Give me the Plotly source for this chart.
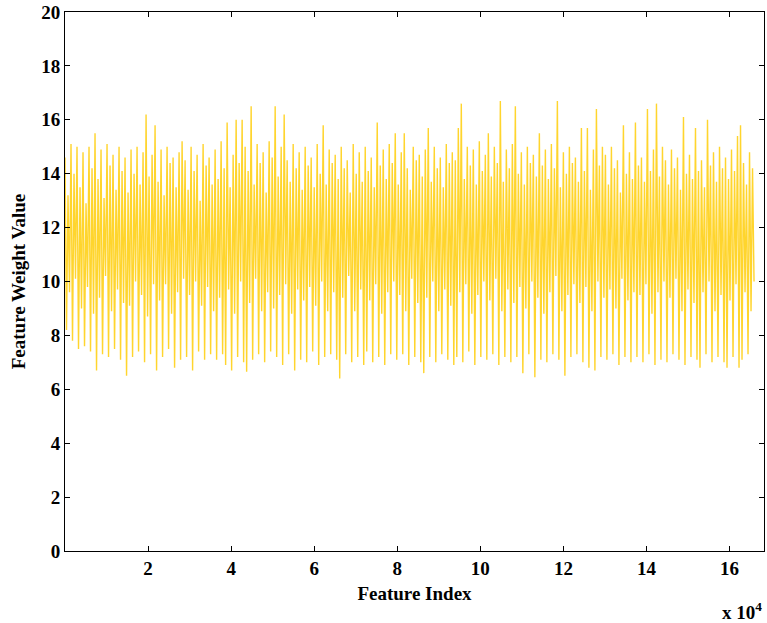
import numpy as np
import plotly.graph_objects as go

# Peak (upper) and trough (lower) values, in groups of ten
peaks = [
    14.6, 13.2, 15.1, 14.0, 15.0, 13.5, 14.8, 12.9, 15.0, 14.2,
    15.5, 13.8, 14.9, 13.1, 15.1, 14.3, 14.7, 13.4, 15.0, 14.1,
    14.6, 13.3, 14.9, 14.0, 15.0, 13.6, 14.8, 16.2, 13.9, 14.7,
    15.8, 13.7, 14.9, 13.2, 15.0, 14.4, 14.6, 13.5, 14.8, 15.2,
    14.5, 13.4, 15.0, 14.1, 14.7, 13.0, 15.1, 14.3, 14.6, 13.6,
    14.9, 13.8, 15.2, 14.2, 15.9, 13.5, 14.7, 16.0, 14.4, 16.0,
    15.0, 14.1, 16.5, 13.6, 15.1, 14.4, 14.8, 13.3, 15.2, 14.6,
    16.5, 13.9, 15.0, 16.2, 14.5, 13.7, 15.1, 14.2, 14.8, 13.4,
    15.0, 14.3, 14.6, 13.5, 15.1, 14.0, 15.8, 13.6, 14.9, 14.4,
    14.7, 13.8, 15.0, 14.2, 14.5, 13.3, 15.1, 14.0, 14.8, 13.7,
    15.0, 14.1, 14.6, 13.5, 15.9, 14.3, 14.9, 13.8, 15.1, 14.4,
    15.5, 13.6, 14.8, 15.5, 14.2, 13.4, 15.0, 14.5, 14.7, 13.9,
    14.9, 15.7, 13.7, 15.0, 14.2, 14.6, 13.5, 15.1, 14.4, 14.8,
    14.5, 15.7, 16.6, 13.8, 15.0, 14.3, 14.9, 13.6, 15.2, 14.1,
    14.7, 15.5, 13.9, 15.0, 14.4, 16.7, 13.7, 14.9, 14.2, 15.1,
    16.5, 14.0, 14.8, 13.6, 15.0, 14.4, 14.7, 13.9, 15.5, 14.3,
    14.9, 13.8, 15.1, 14.2, 16.7, 13.5, 14.8, 14.0, 15.0, 14.4,
    14.6, 13.7, 15.7, 14.1, 15.7, 13.4, 14.9, 16.4, 14.3, 15.0,
    14.7, 13.6, 15.0, 14.2, 14.5, 13.3, 15.8, 14.0, 14.8, 13.8,
    15.9, 14.3, 14.6, 13.7, 16.4, 14.1, 14.9, 16.6, 13.9, 15.0,
    14.5, 13.6, 14.9, 14.2, 14.6, 13.4, 16.1, 14.0, 14.7, 13.8,
    15.7, 14.1, 14.5, 13.5, 16.0, 14.3, 14.8, 13.7, 15.0, 14.2,
    14.6, 13.8, 14.9, 14.1, 15.4, 15.8, 14.4, 13.6, 14.8, 14.2,
]
troughs = [
    8.2, 9.6, 7.8, 10.1, 7.5, 9.0, 7.6, 9.8, 7.4, 8.8,
    6.7, 9.4, 7.3, 10.2, 7.2, 8.9, 7.5, 9.7, 7.1, 9.2,
    6.5, 9.1, 7.2, 10.0, 7.4, 9.5, 7.0, 8.7, 7.3, 9.9,
    6.7, 9.3, 7.2, 9.9, 7.5, 8.8, 6.8, 9.6, 7.1, 10.1,
    7.2, 9.5, 6.7, 10.0, 7.4, 9.1, 7.1, 9.8, 7.3, 8.9,
    7.1, 9.4, 7.3, 6.9, 9.7, 6.7, 8.8, 7.2, 10.0, 7.0,
    6.65, 9.2, 7.1, 10.1, 7.3, 8.9, 7.0, 9.6, 7.4, 9.0,
    7.2, 9.5, 6.9, 9.9, 7.3, 8.8, 6.7, 9.7, 7.1, 9.3,
    7.0, 9.8, 7.4, 9.1, 6.9, 10.0, 7.2, 8.9, 7.3, 9.6,
    7.1, 6.4, 9.4, 7.3, 10.2, 7.0, 8.9, 7.2, 9.7, 6.9,
    7.4, 9.3, 7.0, 9.9, 7.2, 8.8, 6.9, 9.6, 7.3, 10.0,
    7.1, 9.5, 7.3, 8.9, 6.9, 10.1, 7.2, 9.2, 7.0, 6.6,
    9.4, 7.2, 10.0, 7.0, 8.9, 7.3, 9.7, 7.1, 9.1, 6.9,
    7.2, 9.6, 7.0, 9.9, 7.4, 8.8, 6.9, 9.5, 7.2, 10.0,
    7.1, 9.3, 7.3, 10.1, 6.9, 8.9, 7.2, 9.7, 7.0, 9.2,
    7.2, 9.8, 6.6, 9.0, 7.3, 10.0, 6.45, 9.4, 7.1, 8.8,
    7.0, 9.6, 7.3, 10.2, 7.1, 8.9, 6.5, 9.5, 7.2, 9.9,
    7.3, 9.2, 7.0, 9.8, 6.8, 8.9, 6.7, 10.0, 7.2, 9.4,
    7.1, 9.7, 7.3, 9.0, 6.9, 10.1, 7.2, 9.3, 7.0, 9.6,
    7.2, 9.5, 7.0, 9.9, 7.3, 8.8, 6.9, 9.6, 7.1, 10.0,
    7.0, 9.4, 7.3, 10.1, 7.1, 8.9, 6.9, 9.7, 7.2, 9.2,
    7.1, 6.8, 9.6, 7.3, 10.0, 7.0, 8.9, 7.2, 9.5, 7.0,
    6.8, 9.3, 7.2, 9.9, 6.8, 7.1, 9.6, 7.3, 8.9, 10.0,
]
last_index = 165900
x_tick_values = [20000, 40000, 60000, 80000, 100000, 120000, 140000, 160000]
x_tick_labels = ["2", "4", "6", "8", "10", "12", "14", "16"]
y_tick_values = [0, 2, 4, 6, 8, 10, 12, 14, 16, 18, 20]

values = []
for p, t in zip(peaks, troughs):
    values.append(p)
    values.append(t)
feature_index = np.linspace(1, last_index, len(values))

font_family = "Liberation Serif, Times New Roman, serif"

fig = go.Figure()
fig.add_trace(go.Scatter(
    x=feature_index, y=values, mode="lines",
    line=dict(color="rgb(255,204,0)", width=1.4),
    opacity=0.82, showlegend=False, hoverinfo="skip",
))

axis_common = dict(
    showline=True, linecolor="black", linewidth=1, mirror="allticks",
    ticks="inside", ticklen=5, tickcolor="black", showgrid=False,
    zeroline=False, ticklabeloverflow="allow",
    tickfont=dict(family=font_family, size=19, color="black", weight="bold"),
)

fig.update_layout(
    width=767, height=623,
    margin=dict(l=65, r=2, t=7, b=72),
    paper_bgcolor="white", plot_bgcolor="white",
    xaxis=dict(
        range=[0, 168300], tickvals=x_tick_values, ticktext=x_tick_labels,
        title=dict(text="Feature Index", standoff=8,
                   font=dict(family=font_family, size=19, color="black", weight="bold")),
        **axis_common,
    ),
    yaxis=dict(
        range=[0, 20], tickvals=y_tick_values,
        title=dict(text="Feature Weight Value", standoff=10,
                   font=dict(family=font_family, size=19, color="black", weight="bold")),
        **axis_common,
    ),
    annotations=[dict(
        text="x 10<sup>4</sup>", xref="paper", yref="paper",
        x=1.0, y=-0.085, xanchor="right", yanchor="top", showarrow=False,
        font=dict(family=font_family, size=19, color="black", weight="bold"),
    )],
)

fig.write_html(
    "out.html",
    config={"displayModeBar": False},
    post_script="document.body.style.margin='0px';document.body.style.overflow='hidden';",
)
